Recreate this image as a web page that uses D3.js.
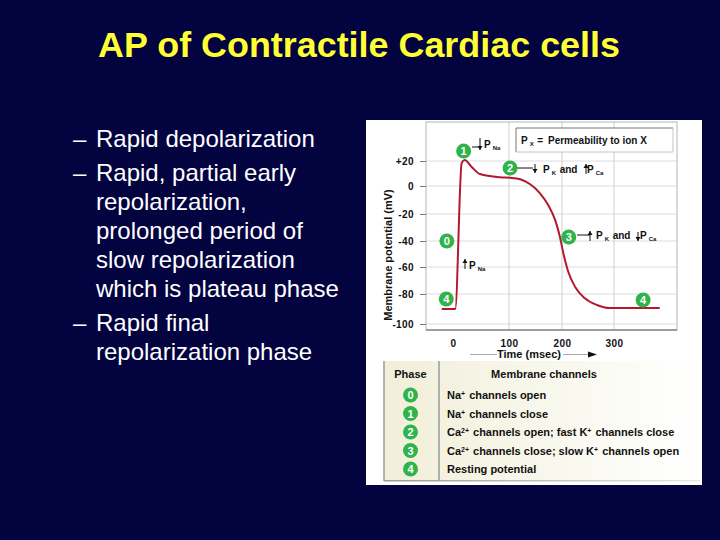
<!DOCTYPE html>
<html>
<head>
<meta charset="utf-8">
<script src="https://cdn.jsdelivr.net/npm/d3@7"></script>
<style>
  html, body { margin: 0; padding: 0; background: #03033f; }
  svg { display: block; }
  text { font-family: "Liberation Sans", Arial, sans-serif; }
  .lbl { font-weight: bold; font-size: 10px; fill: #111; }
  .big { font-size: 11px; }
</style>
</head>
<body>
<div id="chart"></div>
<script>
const titleText = 'AP of Contractile Cardiac cells';
const bodyLines = [
  ['–', 'Rapid depolarization'],
  ['–', 'Rapid, partial early'],
  ['', 'repolarization,'],
  ['', 'prolonged period of'],
  ['', 'slow repolarization'],
  ['', 'which is plateau phase'],
  ['–', 'Rapid final'],
  ['', 'repolarization phase']
];
const bodyBaselines = [147, 181, 210, 239, 268, 297, 331, 360];

// time (msec) / potential (mV)
const curveTime = [-20, 4, 15.5, 21, 33, 48, 84, 102, 121, 140, 158.5, 174, 187, 196, 202.5, 212, 225, 244, 267, 292, 388];
const curveMv = [-90, -90, 18.4, 20.8, 15.4, 9.6, 7, 6.6, 5.4, 1.4, -5.2, -13.6, -24.4, -36.8, -49.2, -63.5, -74.6, -82.9, -87.3, -89.3, -89.3];

const yTicks = [20, 0, -20, -40, -60, -80, -100];
const yTickLabels = ['+20', '0', '-20', '-40', '-60', '-80', '-100'];
const xTicks = [0, 100, 200, 300];

const badgeLabels = ['1', '2', '0', '3', '4', '4'];
const badgeTime = [19, 102, -11, 213, -12, 356];
const badgeMv = [28, 14.4, -40, -37, -83.3, -84];

const phases = ['0', '1', '2', '3', '4'];
const channels = [
  [['Na', 0], ['+', 1], [' channels open', 0]],
  [['Na', 0], ['+', 1], [' channels close', 0]],
  [['Ca', 0], ['2+', 1], [' channels open; fast K', 0], ['+', 1], [' channels close', 0]],
  [['Ca', 0], ['2+', 1], [' channels close; slow K', 0], ['+', 1], [' channels open', 0]],
  [['Resting potential', 0]]
];

const svg = d3.select('#chart').append('svg').attr('width', 720).attr('height', 540);
const defs = svg.append('defs');

const tableGrad = defs.append('linearGradient').attr('id', 'tableGrad');
tableGrad.append('stop').attr('offset', 0).attr('stop-color', '#f1efd9');
tableGrad.append('stop').attr('offset', 1).attr('stop-color', '#ffffff');

const edgeGrad = defs.append('linearGradient').attr('id', 'edgeGrad');
edgeGrad.append('stop').attr('offset', 0).attr('stop-color', '#9a9a9a');
edgeGrad.append('stop').attr('offset', 1).attr('stop-color', '#e8e8e8');

svg.append('rect').attr('width', 720).attr('height', 540).attr('fill', '#03033f');

svg.append('text').attr('x', 359).attr('y', 56.5).attr('text-anchor', 'middle')
  .attr('font-size', 35.9).attr('font-weight', 'bold').attr('fill', '#ffff33').text(titleText);

const body = svg.append('g').attr('fill', '#fff').attr('font-size', 24);
body.selectAll('text.dash').data(bodyLines.filter((d) => d[0]))
  .enter().append('text').attr('class', 'dash').attr('x', 73)
  .attr('y', (d) => bodyBaselines[bodyLines.indexOf(d)]).text((d) => d[0]);
body.selectAll('text.line').data(bodyLines)
  .enter().append('text').attr('class', 'line').attr('x', 96)
  .attr('y', (d, i) => bodyBaselines[i]).text((d) => d[1]);

// white panel
svg.append('rect').attr('x', 366).attr('y', 120).attr('width', 336).attr('height', 365).attr('fill', '#fff');

const plot = {left: 426, right: 677, top: 122, bottom: 330};

const x = d3.scaleLinear().domain([0, 100, 200, 300]).range([453, 509, 562, 614]);
const y = d3.scaleLinear().domain(yTicks).range([161, 186, 214, 241, 267, 294, 324]);

// grid
svg.append('g').selectAll('line').data(yTicks).enter().append('line')
  .attr('x1', plot.left).attr('x2', plot.right)
  .attr('y1', (d) => y(d)).attr('y2', (d) => y(d))
  .attr('stroke', '#dcdcdc');
svg.append('g').selectAll('line').data(xTicks.slice(1)).enter().append('line')
  .attr('x1', (d) => x(d)).attr('x2', (d) => x(d))
  .attr('y1', plot.top).attr('y2', plot.bottom)
  .attr('stroke', '#cfcfcf');

svg.append('rect').attr('x', plot.left).attr('y', plot.top)
  .attr('width', plot.right - plot.left).attr('height', plot.bottom - plot.top)
  .attr('fill', 'none').attr('stroke', '#b5b5b5');
svg.append('line').attr('x1', plot.left).attr('x2', plot.right).attr('y1', plot.bottom).attr('y2', plot.bottom)
  .attr('stroke', '#8a8a8a').attr('stroke-width', 1.5);

// axes
const yAxis = svg.append('g').attr('transform', `translate(${plot.left},0)`)
  .call(d3.axisLeft(y).tickValues(yTicks).tickSize(6).tickPadding(6)
    .tickFormat((d, i) => yTickLabels[i]));
const xAxis = svg.append('g').attr('transform', `translate(0,${plot.bottom})`)
  .call(d3.axisBottom(x).tickValues(xTicks).tickSize(0).tickPadding(10).tickFormat(d3.format('d')));
[yAxis, xAxis].forEach((a) => {
  a.select('.domain').remove();
  a.selectAll('.tick line').attr('stroke', '#777');
  a.selectAll('.tick text').attr('class', 'lbl').attr('font-size', null).attr('fill', null)
    .style('font-family', '"Liberation Sans", Arial, sans-serif')
    .style('letter-spacing', '0.4px');
});

// curve
const line = d3.line().x((d) => x(d[0])).y((d) => y(d[1])).curve(d3.curveMonotoneX);
svg.append('path').datum(d3.zip(curveTime, curveMv)).attr('d', line)
  .attr('fill', 'none').attr('stroke', '#b3182f').attr('stroke-width', 2);

// arrows and leader lines of the annotations
const arrow = (xa, y0, y1) => {
  const dir = y1 > y0 ? 1 : -1;
  svg.append('line').attr('x1', xa).attr('x2', xa).attr('y1', y0).attr('y2', y1)
    .attr('stroke', '#111').attr('stroke-width', 1);
  svg.append('path')
    .attr('d', `M${xa - 2.5},${y1 - dir * 4}L${xa + 2.5},${y1 - dir * 4}L${xa},${y1}Z`)
    .attr('fill', '#111');
};
const leader = (x1, x2, yl) => svg.append('line').attr('x1', x1).attr('x2', x2).attr('y1', yl).attr('y2', yl)
  .attr('stroke', '#111').attr('stroke-width', 1);

const pLabel = (xp, yp, parts) => {
  const t = svg.append('text').attr('class', 'lbl').attr('x', xp).attr('y', yp);
  parts.forEach((p) => {
    t.append('tspan').attr('font-size', p[1] ? 6 : 10).attr('dy', p[1] ? 2 : 0).attr('dx', p[1] ? 2 : 0).text(p[0]);
    if (p[1]) t.append('tspan').attr('dy', -2).text('\u200a');
  });
};

leader(472, 478, 147); arrow(480, 138, 150);
pLabel(484, 148, [['P', 0], ['Na', 1]]);
leader(517, 533, 168); arrow(535, 164, 173);
pLabel(543, 173, [['P', 0], ['K', 1], [' and ', 0]]);
arrow(586, 174, 164);
pLabel(587, 173, [['P', 0], ['Ca', 1]]);
leader(577, 590, 235); arrow(590, 241, 231);
pLabel(596, 239, [['P', 0], ['K', 1], [' and ', 0]]);
arrow(638, 232, 241);
pLabel(640, 239, [['P', 0], ['Ca', 1]]);
arrow(465, 269, 259);
pLabel(469, 269, [['P', 0], ['Na', 1]]);

// legend box
svg.append('rect').attr('x', 516).attr('y', 128).attr('width', 157).attr('height', 24).attr('fill', '#fff');
svg.append('path').attr('d', 'M516,152V128H673').attr('fill', 'none').attr('stroke', '#777');
svg.append('path').attr('d', 'M673,128V152H516').attr('fill', 'none').attr('stroke', '#c4c4c4');
pLabel(521, 144, [['P', 0], ['X', 1], [' =', 0]]);
svg.append('text').attr('class', 'lbl').attr('x', 548).attr('y', 144).text('Permeability to ion X');

// axis titles
svg.append('text').attr('class', 'lbl big').attr('transform', 'translate(392,255) rotate(-90)')
  .attr('text-anchor', 'middle').text('Membrane potential (mV)');
svg.append('text').attr('class', 'lbl big').attr('x', 529).attr('y', 358).attr('text-anchor', 'middle').text('Time (msec)');
svg.append('line').attr('x1', 470).attr('x2', 497).attr('y1', 354.5).attr('y2', 354.5).attr('stroke', '#aaa');
svg.append('line').attr('x1', 563).attr('x2', 590).attr('y1', 354.5).attr('y2', 354.5).attr('stroke', '#aaa');
svg.append('path').attr('d', 'M588,351.5L597,354.5L588,357.5Z').attr('fill', '#111');

const badge = (sel) => {
  sel.append('circle').attr('r', 7.5).attr('fill', '#2fb34a');
  sel.append('text').attr('text-anchor', 'middle').attr('y', 4).attr('font-size', 11)
    .attr('font-weight', 'bold').attr('fill', '#fff').text((d) => d.label);
};

svg.append('g').selectAll('g').data(badgeLabels.map((label, i) => ({label, t: badgeTime[i], v: badgeMv[i]})))
  .enter().append('g').attr('transform', (d) => `translate(${x(d.t)},${y(d.v)})`).call(badge);

// phase table
const rowY = d3.scalePoint().domain(phases).range([395, 469]);
svg.append('rect').attr('x', 384).attr('y', 361).attr('width', 316).attr('height', 120).attr('fill', 'url(#tableGrad)');
svg.append('rect').attr('x', 384).attr('y', 480).attr('width', 316).attr('height', 1.5).attr('fill', 'url(#edgeGrad)');
svg.append('path').attr('d', 'M384,361V481M439,361V481').attr('fill', 'none').attr('stroke', '#9a9a9a').attr('stroke-width', 1.5);
svg.append('text').attr('class', 'lbl big').attr('x', 410.5).attr('y', 378).attr('text-anchor', 'middle').text('Phase');
svg.append('text').attr('class', 'lbl big').attr('x', 544).attr('y', 378).attr('text-anchor', 'middle').text('Membrane channels');

svg.append('g').selectAll('g').data(phases.map((label) => ({label})))
  .enter().append('g').attr('transform', (d) => `translate(410.5,${rowY(d.label)})`).call(badge);

const rows = svg.append('g').selectAll('text').data(channels).enter().append('text')
  .attr('class', 'lbl big').attr('x', 447).attr('y', (d, i) => rowY(phases[i]) + 4);
rows.each(function (row) {
  const t = d3.select(this);
  row.forEach((p) => {
    t.append('tspan').attr('font-size', p[1] ? 7 : 11).attr('dy', p[1] ? -3 : 0).text(p[0]);
    if (p[1]) t.append('tspan').attr('dy', 3).text('\u200a');
  });
});
</script>
</body>
</html>
